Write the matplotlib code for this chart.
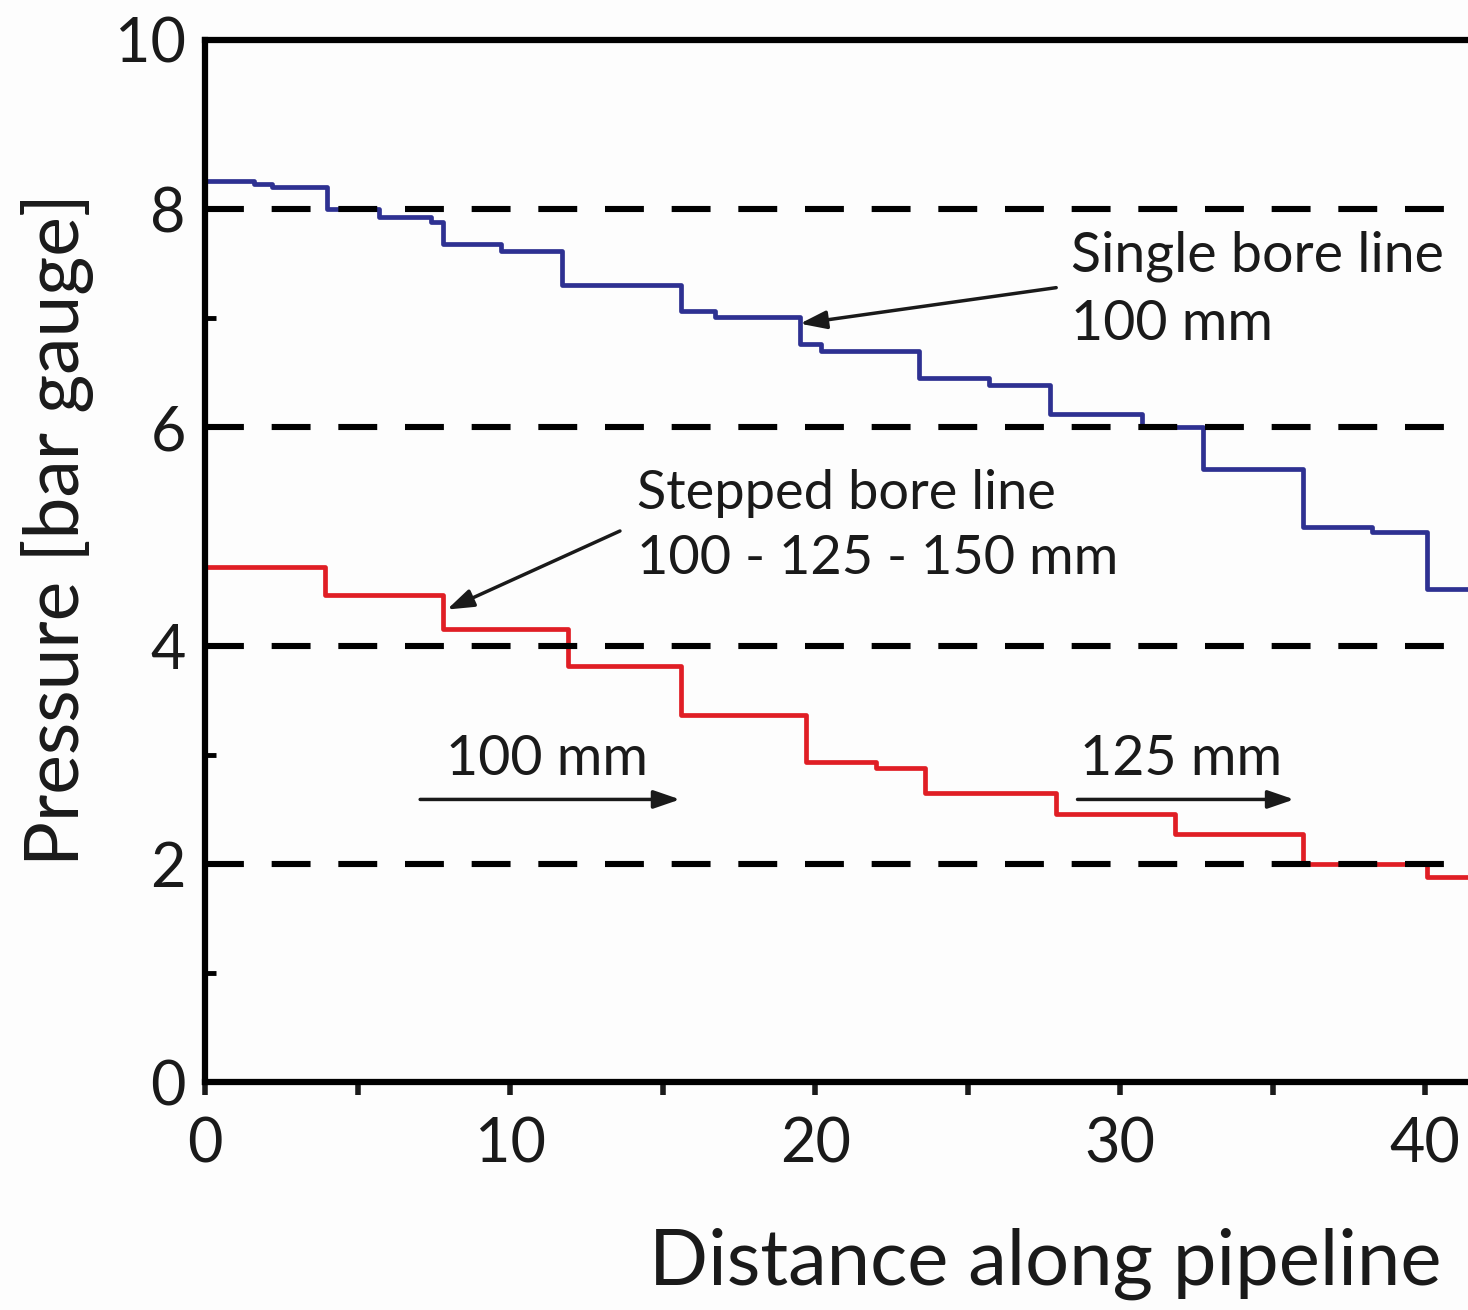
import numpy as np
import matplotlib as mpl
mpl.use("Agg")
import matplotlib.pyplot as plt
import matplotlib.ticker as ticker

FONT = "Lato"
TXT = "#1a1a1a"
BLUE = "#2e3192"
RED = "#e01e25"

# single bore line, 100 mm (step starts, pressure in bar gauge)
single_x = [0, 1.6, 2.2, 4.0, 5.7, 7.4, 7.8, 9.7, 11.7, 15.6, 16.7, 19.5, 20.2,
            23.4, 25.7, 27.7, 30.7, 32.7, 36.0, 38.25, 40.05, 41.4]
single_p = [8.26, 8.23, 8.2, 8.0, 7.93, 7.88, 7.68, 7.62, 7.3, 7.07, 7.01, 6.76, 6.70,
            6.45, 6.39, 6.12, 6.0, 5.62, 5.09, 5.04, 4.52, 4.52]

# stepped bore line, 100 - 125 - 150 mm
stepped_x = [0, 3.93, 7.8, 11.9, 15.6, 19.7, 22.0, 23.6, 27.9, 31.8, 36.0, 40.07, 41.4]
stepped_p = [4.72, 4.46, 4.15, 3.81, 3.36, 2.93, 2.88, 2.65, 2.46, 2.27, 2.0, 1.88, 1.88]

dash_levels = [2, 4, 6, 8]

x_major = [0, 10, 20, 30, 40]
x_minor = [5, 15, 25, 35]
y_major = [0, 2, 4, 6, 8, 9.55]
y_major_labels = ["0", "2", "4", "6", "8", "10"]
y_minor = [1, 3, 7]

XMAX = 41.4
YMAX = 9.55

plt.rcParams["lines.scale_dashes"] = False

fig = plt.figure(figsize=(14.68, 13.10), dpi=100)
fig.set_facecolor("#fdfdfd")
ax = fig.add_axes([0.1397, 0.174, 0.8603, 0.7955])
ax.set_facecolor("#fdfdfd")

for lvl in dash_levels:
    ax.axhline(lvl, color="black", lw=4.4, dashes=(28, 20), zorder=3)

ax.step(single_x, single_p, where="post", color=BLUE, lw=3.4, zorder=2)
ax.step(stepped_x, stepped_p, where="post", color=RED, lw=3.4, zorder=2)

ax.set_xlim(0, XMAX)
ax.set_ylim(0, YMAX)

for s in ["left", "bottom", "top"]:
    ax.spines[s].set_linewidth(4.5)
ax.spines["right"].set_visible(False)

ax.xaxis.set_major_locator(ticker.FixedLocator(x_major))
ax.xaxis.set_minor_locator(ticker.FixedLocator(x_minor))
ax.yaxis.set_major_locator(ticker.FixedLocator(y_major))
ax.yaxis.set_major_formatter(ticker.FixedFormatter(y_major_labels))
ax.yaxis.set_minor_locator(ticker.FixedLocator(y_minor))

ax.tick_params(axis="x", which="both", direction="out", length=9, width=4,
               labelsize=44, pad=16, colors=TXT)
ax.tick_params(axis="y", which="major", direction="in", length=24, width=3.5,
               labelsize=44, pad=14, colors=TXT)
ax.tick_params(axis="y", which="minor", direction="in", length=8, width=3.5)
for lab in ax.get_xticklabels() + ax.get_yticklabels():
    lab.set_fontname(FONT)

ax.set_xlabel("Distance along pipeline", fontsize=56, fontname=FONT, color=TXT)
ax.xaxis.set_label_coords(0.665, -0.14)
ax.set_ylabel("Pressure [bar gauge]", fontsize=54, fontname=FONT, color=TXT)
ax.yaxis.set_label_coords(-0.088, 0.53)

arrow_kw = dict(arrowstyle="-|>,head_length=1.6,head_width=0.55", color="#1a1a1a",
                lw=2.5, shrinkA=0, shrinkB=0)

ax.text(28.4, 7.8, "Single bore line\n100 mm", fontsize=40, fontname=FONT,
        color=TXT, ha="left", va="top", linespacing=1.4)
ax.annotate("", xy=(19.5, 6.95), xytext=(27.9, 7.28), arrowprops=arrow_kw)

ax.text(14.15, 5.62, "Stepped bore line\n100 - 125 - 150 mm", fontsize=39,
        fontname=FONT, color=TXT, ha="left", va="top", linespacing=1.4)
ax.annotate("", xy=(7.93, 4.33), xytext=(13.6, 5.05), arrowprops=arrow_kw)

ax.text(11.2, 2.96, "100 mm", fontsize=40, fontname=FONT, color=TXT,
        ha="center", va="center")
ax.annotate("", xy=(15.57, 2.59), xytext=(7.05, 2.59), arrowprops=arrow_kw)

ax.text(32.0, 2.96, "125 mm", fontsize=40, fontname=FONT, color=TXT,
        ha="center", va="center")
ax.annotate("", xy=(35.7, 2.59), xytext=(28.6, 2.59), arrowprops=arrow_kw)

fig.savefig("out.png", dpi=100, facecolor=fig.get_facecolor())
